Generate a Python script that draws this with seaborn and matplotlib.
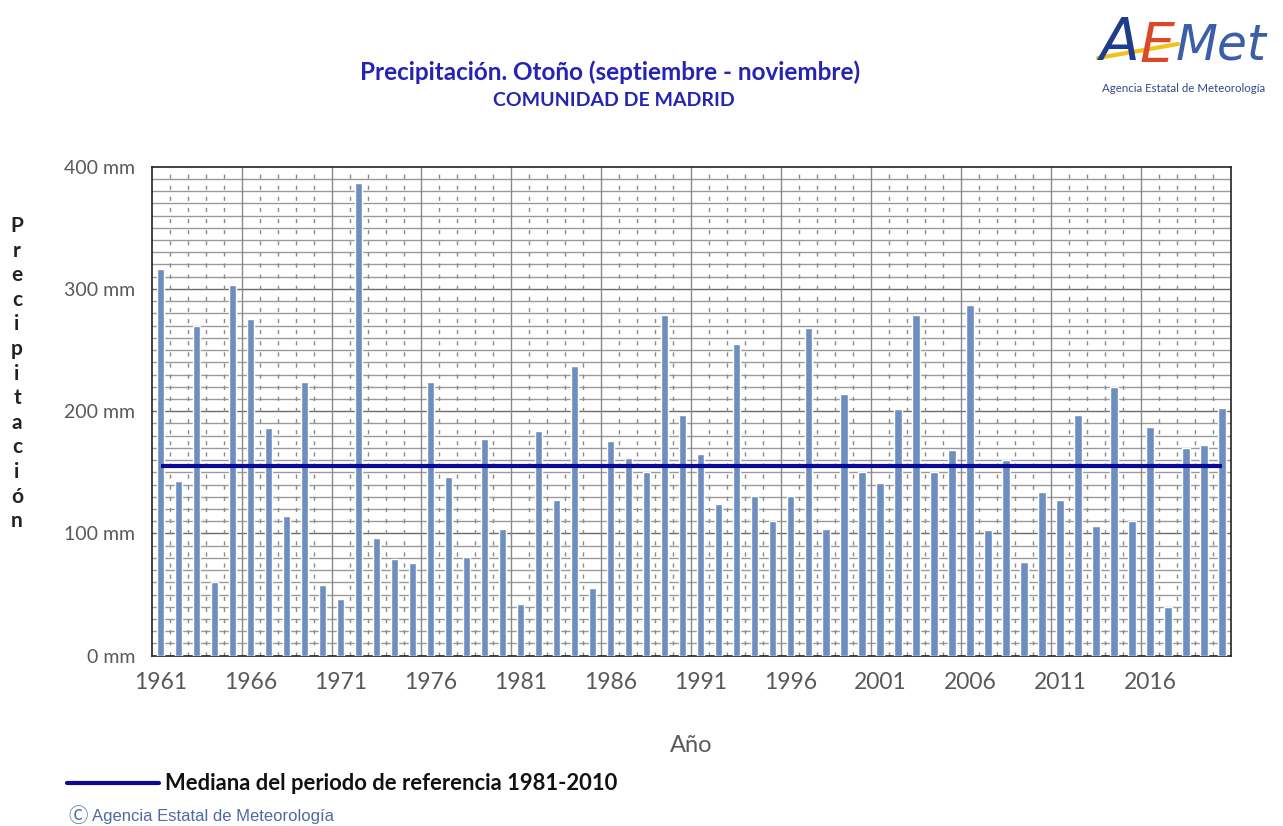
import numpy as np
import pandas as pd
import matplotlib
matplotlib.use("Agg")
import matplotlib.pyplot as plt
from matplotlib.lines import Line2D
import seaborn as sns

# Autumn precipitation (Sep-Nov), Comunidad de Madrid, mm
years = list(range(1961, 2021))
precip = [316, 143, 270, 60, 303, 275, 186, 114, 224, 58,
          46, 387, 96, 79, 76, 224, 146, 81, 177, 104,
          42, 184, 127, 237, 55, 176, 162, 150, 279, 197,
          165, 124, 255, 131, 110, 131, 268, 104, 214, 150,
          141, 202, 279, 150, 168, 287, 103, 160, 77, 134,
          127, 197, 106, 220, 110, 187, 40, 170, 172, 203]
median_ref = 155
tick_years = list(range(1961, 2021, 5))

df = pd.DataFrame({"year": [str(y) for y in years], "precip": precip})

sns.set_theme(style="white")
plt.rcParams["font.family"] = ["Lato", "DejaVu Sans"]

fig = plt.figure(figsize=(12.83, 8.26), dpi=100)
ax = fig.add_axes([0.1182, 0.2062, 0.8413, 0.592])

sns.barplot(data=df, x="year", y="precip", color="#6E8EBF", width=0.42,
            saturation=1, ax=ax, zorder=3)

n = len(years)
ax.set_xlim(-0.5, n - 0.5)
ax.set_ylim(0, 400)

# grid: minor every 10 mm, major every 100 mm; vertical dashed every year, solid every 5
for v in range(10, 400, 10):
    ax.axhline(v, color="#9a9a9a" if v % 100 else "#6a6a6a", lw=1.0, zorder=1)
for i in range(n - 1):
    b = i + 0.5
    if (i + 1) % 5 == 0:
        ax.axvline(b, color="#8a8a8a", lw=1.0, zorder=1)
    else:
        ax.axvline(b, color="#8a8a8a", lw=1.0, ls=(0, (3, 5)), zorder=1)

ax.hlines(median_ref, 0, n - 1, color="#0A0A96", lw=3, zorder=4)

ax.set_yticks([0, 100, 200, 300, 400])
ax.set_yticklabels([f"{v} mm" for v in [0, 100, 200, 300, 400]],
                   fontsize=14, color="#595959")
ax.set_xticks([years.index(y) for y in tick_years])
ax.set_xticklabels([str(y) for y in tick_years], fontsize=16.5, color="#595959")
ax.set_xticks(np.arange(-0.5, n, 1), minor=True)
ax.tick_params(axis="x", which="major", length=0, pad=12)
ax.tick_params(axis="x", which="minor", length=4, width=1, color="black", direction="out")
ax.tick_params(axis="y", which="major", length=6, width=1, color="black", direction="out", pad=6)
ax.set_xlabel("")
ax.set_ylabel("")
for s in ax.spines.values():
    s.set_color("#222222")
    s.set_linewidth(1.2)

# titles
fig.text(610 / 1283, 1 - 72 / 826, "Precipitación. Otoño (septiembre - noviembre)",
         ha="center", va="center", fontsize=17.5, fontweight="bold", color="#2323B4")
fig.text(614 / 1283, 1 - 101 / 826, "COMUNIDAD DE MADRID", ha="center", va="center",
         fontsize=14, fontweight="bold", color="#2323B4")

# vertical stacked y label
for k, ch in enumerate("Precipitación"):
    fig.text(0.0133, 1 - (226 + k * 24.6) / 826, ch, ha="center", va="center",
             fontsize=15, fontweight="bold", color="#222222")

fig.text(691 / 1283, 1 - 745 / 826, "Año", ha="center", va="center",
         fontsize=17, color="#595959")

# legend
fig.add_artist(Line2D([67 / 1283, 159 / 1283], [1 - 783 / 826] * 2,
                      color="#0A0A96", lw=3, transform=fig.transFigure))
fig.text(165 / 1283, 1 - 783 / 826, "Mediana del periodo de referencia 1981-2010",
         ha="left", va="center", fontsize=15.8, fontweight="bold", color="#111111")
fig.text(68 / 1283, 1 - 817 / 826, "Ⓒ", ha="left", va="center", fontsize=14,
         color="#4F6AA0", family=["Noto Sans CJK JP", "DejaVu Sans"])
fig.text(92 / 1283, 1 - 817 / 826, "Agencia Estatal de Meteorología",
         ha="left", va="center", fontsize=12, color="#4F6AA0",
         family=["Liberation Sans", "DejaVu Sans"])

# logo
fig.text(1099 / 1283, 1 - 44 / 826, "A", ha="left", va="center", fontsize=42,
         style="italic", color="#1F3C8C", family=["DejaVu Sans"])
fig.text(1140 / 1283, 1 - 46 / 826, "E", ha="left", va="center", fontsize=40,
         style="italic", color="#D9482B", family=["DejaVu Sans"])
fig.text(1176 / 1283, 1 - 46 / 826, "Met", ha="left", va="center", fontsize=35,
         style="italic", color="#3A5FA8", family=["DejaVu Sans"])
fig.add_artist(Line2D([1098 / 1283, 1178 / 1283], [1 - 58 / 826, 1 - 44 / 826],
                      color="#F2C21B", lw=3, transform=fig.transFigure))
fig.text(1184 / 1283, 1 - 89 / 826, "Agencia Estatal de Meteorología",
         ha="center", va="center", fontsize=8.3, color="#2E4A8C")

fig.savefig("out.png", dpi=100, facecolor="white")
